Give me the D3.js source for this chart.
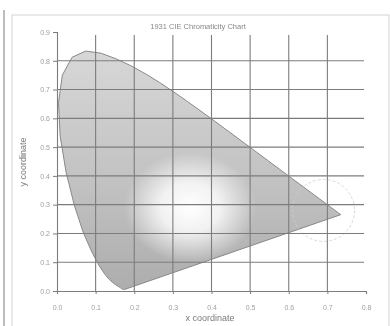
<!DOCTYPE html>
<html>
<head>
<meta charset="utf-8">
<script src="https://cdn.jsdelivr.net/npm/d3@7"></script>
<style>
  body { margin: 0; background: #fff; }
  svg text { font-family: "Liberation Sans", Arial, sans-serif; }
</style>
</head>
<body>
<div id="chart"></div>
<script>
// CIE 1931 spectral locus (chromaticity x, y)
const wavelengths = [380,390,400,410,420,425,430,435,440,445,450,455,460,465,470,475,480,485,490,495,500,505,510,515,520,525,530,535,540,545,550,555,560,565,570,575,580,585,590,595,600,605,610,615,620,625,630,640,650,660,680,700];
const locusX = [0.1741,0.1738,0.1733,0.1726,0.1714,0.1703,0.1689,0.1669,0.1644,0.1611,0.1566,0.1510,0.1440,0.1355,0.1241,0.1096,0.0913,0.0687,0.0454,0.0235,0.0082,0.0039,0.0139,0.0389,0.0743,0.1142,0.1547,0.1929,0.2296,0.2658,0.3016,0.3373,0.3731,0.4087,0.4441,0.4788,0.5125,0.5448,0.5752,0.6029,0.6270,0.6482,0.6658,0.6801,0.6915,0.7006,0.7079,0.7190,0.7260,0.7300,0.7334,0.7347];
const locusY = [0.0050,0.0049,0.0048,0.0048,0.0051,0.0058,0.0069,0.0086,0.0109,0.0138,0.0177,0.0227,0.0297,0.0399,0.0578,0.0868,0.1327,0.2007,0.2950,0.4127,0.5384,0.6548,0.7502,0.8120,0.8338,0.8262,0.8059,0.7816,0.7543,0.7243,0.6923,0.6589,0.6245,0.5896,0.5547,0.5202,0.4866,0.4544,0.4242,0.3965,0.3725,0.3514,0.3340,0.3197,0.3083,0.2993,0.2920,0.2809,0.2740,0.2700,0.2666,0.2653];

const xTicks = [0,0.1,0.2,0.3,0.4,0.5,0.6,0.7,0.8];
const yTicks = [0,0.1,0.2,0.3,0.4,0.5,0.6,0.7,0.8,0.9];
const titleText = "1931 CIE Chromaticity Chart";

const width = 390, height = 326;
const margin = {top: 32, right: 24, bottom: 35, left: 57};

const svg = d3.select('#chart').append('svg')
    .attr('width', width)
    .attr('height', height);

const defs = svg.append('defs');
defs.append('filter').attr('id', 'soft')
  .append('feGaussianBlur').attr('stdDeviation', 0.7);

const x = d3.scaleLinear().domain([0, 0.8]).range([margin.left, width - margin.right]);
const y = d3.scaleLinear().domain([0, 0.9]).range([height - margin.bottom, margin.top]);

// base gray fill, lighter at the top
const lin = defs.append('linearGradient').attr('id', 'baseFill')
    .attr('gradientUnits', 'userSpaceOnUse')
    .attr('x1', 0).attr('y1', y(0.85)).attr('x2', 0).attr('y2', y(0));
lin.append('stop').attr('offset', '0%').attr('stop-color', '#d8d8d8');
lin.append('stop').attr('offset', '55%').attr('stop-color', '#c2c2c2');
lin.append('stop').attr('offset', '100%').attr('stop-color', '#adadad');

// white patch near the white point
const cx = x(0.345), cy = y(0.29);
const rad = defs.append('radialGradient').attr('id', 'whiteSpot')
    .attr('gradientUnits', 'userSpaceOnUse')
    .attr('cx', cx).attr('cy', cy).attr('r', 55)
    .attr('gradientTransform', `translate(${cx},${cy}) scale(1.2,1) translate(${-cx},${-cy})`);
rad.append('stop').attr('offset', '0%').attr('stop-color', '#ffffff').attr('stop-opacity', 1);
rad.append('stop').attr('offset', '45%').attr('stop-color', '#ffffff').attr('stop-opacity', 0.8);
rad.append('stop').attr('offset', '100%').attr('stop-color', '#ffffff').attr('stop-opacity', 0);

const root = svg.append('g').attr('filter', 'url(#soft)');

// outer frame
root.append('line')
    .attr('x1', 4).attr('x2', 4).attr('y1', 10).attr('y2', height)
    .attr('stroke', '#bdbdbd').attr('stroke-width', 2);
root.append('rect')
    .attr('x', 12).attr('y', 15).attr('width', width - 13).attr('height', height - 14)
    .attr('fill', 'none').attr('stroke', '#d4d4d4').attr('stroke-width', 1);

const points = wavelengths.map((w, i) => [locusX[i], locusY[i]]);
const line = d3.line().x(d => x(d[0])).y(d => y(d[1]));

defs.append('clipPath').attr('id', 'locusClip')
  .append('path').attr('d', line(points) + 'Z');

root.append('path')
    .attr('d', line(points) + 'Z')
    .attr('fill', 'url(#baseFill)');
root.append('rect')
    .attr('clip-path', 'url(#locusClip)')
    .attr('x', margin.left).attr('y', margin.top)
    .attr('width', x(0.8) - margin.left).attr('height', y(0) - margin.top)
    .attr('fill', 'url(#whiteSpot)');

root.append('path')
    .attr('d', line(points) + 'Z')
    .attr('fill', 'none')
    .attr('stroke', '#888')
    .attr('stroke-width', 1);

// faint ellipse near the red end
root.append('circle')
    .attr('cx', x(0.69)).attr('cy', y(0.28)).attr('r', 31)
    .attr('fill', 'none').attr('stroke', '#cfcfcf').attr('stroke-width', 0.8)
    .attr('stroke-dasharray', '3,2');

// grid
root.append('g').selectAll('line.v')
    .data(xTicks.slice(1, -1))
  .join('line')
    .attr('x1', d => x(d)).attr('x2', d => x(d))
    .attr('y1', y(0.89)).attr('y2', y(0))
    .attr('stroke', '#7c7c7c').attr('stroke-width', 1.1);
root.append('g').selectAll('line.h')
    .data(yTicks.slice(1, -1))
  .join('line')
    .attr('x1', x(0)).attr('x2', x(0.8) - 2)
    .attr('y1', d => y(d)).attr('y2', d => y(d))
    .attr('stroke', '#7c7c7c').attr('stroke-width', 1.1);

// axes
const xAxis = root.append('g')
    .attr('transform', `translate(0,${y(0)})`)
    .call(d3.axisBottom(x).tickValues(xTicks).tickFormat(d3.format('.1f')).tickSize(3).tickPadding(11));
const yAxis = root.append('g')
    .attr('transform', `translate(${x(0)},0)`)
    .call(d3.axisLeft(y).tickValues(yTicks).tickFormat(d3.format('.1f')).tickSize(4).tickPadding(3));
[xAxis, yAxis].forEach(a => {
  a.select('.domain').attr('stroke', '#7c7c7c').attr('stroke-width', 1.1);
  a.selectAll('.tick line').attr('stroke', '#7c7c7c');
  a.selectAll('.tick text').attr('fill', '#a0a0a0').style('font-size', '7px');
});

// title and axis labels
root.append('text')
    .attr('x', 198).attr('y', 29)
    .attr('text-anchor', 'middle')
    .attr('fill', '#888')
    .style('font-size', '7.5px')
    .text(titleText);
root.append('text')
    .attr('x', 210).attr('y', 321)
    .attr('text-anchor', 'middle')
    .attr('fill', '#7a7a7a')
    .style('font-size', '9px')
    .text('x coordinate');
root.append('text')
    .attr('transform', `translate(26,162) rotate(-90)`)
    .attr('text-anchor', 'middle')
    .attr('fill', '#7a7a7a')
    .style('font-size', '9px')
    .text('y coordinate');
</script>
</body>
</html>
